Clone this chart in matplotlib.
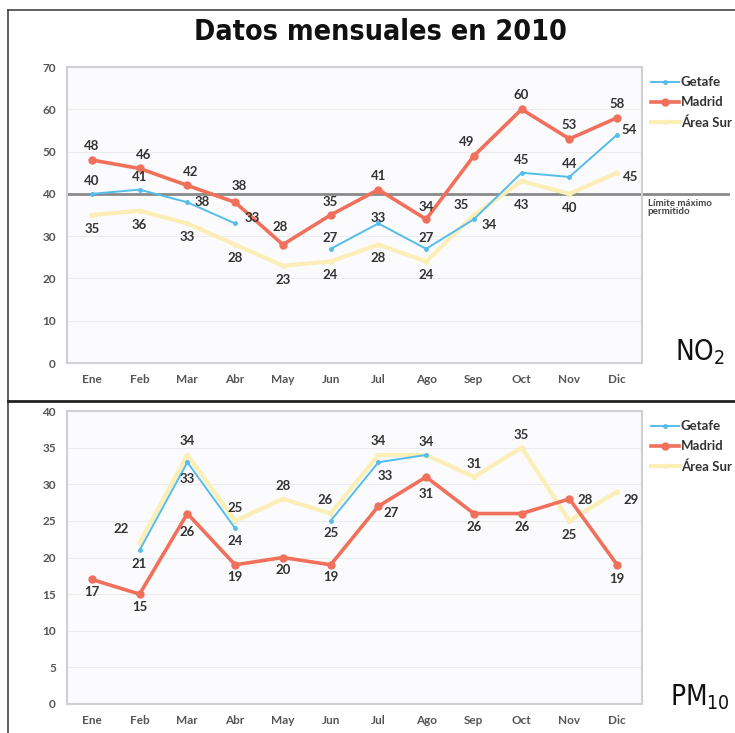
import matplotlib
matplotlib.use("Agg")
import matplotlib.pyplot as plt
from matplotlib.lines import Line2D
from matplotlib import font_manager as fm
import numpy as np

# ---- data -------------------------------------------------------------
months = ["Ene", "Feb", "Mar", "Abr", "May", "Jun",
          "Jul", "Ago", "Sep", "Oct", "Nov", "Dic"]
series = ["Getafe", "Madrid", "Área Sur"]

no2_getafe = [40, 41, 38, 33, None, 27, 33, 27, 34, 45, 44, 54]
no2_madrid = [48, 46, 42, 38, 28, 35, 41, 34, 49, 60, 53, 58]
no2_sur = [35, 36, 33, 28, 23, 24, 28, 24, 35, 43, 40, 45]
no2_limit = 40

pm10_getafe = [None, 21, 33, 24, None, 25, 33, 34, None, None, None, None]
pm10_madrid = [17, 15, 26, 19, 20, 19, 27, 31, 26, 26, 28, 19]
pm10_sur = [None, 22, 34, 25, 28, 26, 34, 34, 31, 35, 25, 29]

# label offsets in points (dx, dy); None = no label
off_no2_getafe = [(0, 9), (0, 9), (11, 0), (12, 4), None, (0, 8), (0, 4),
                  (0, 8), (11, -4), (0, 9), (0, 9), (9, 3)]
off_no2_madrid = [(0, 10), (3, 10), (2, 10), (3, 12), (-2, 13), (0, 9), (0, 10),
                  (0, 9), (-5, 10), (0, 10), (0, 10), (0, 10)]
off_no2_sur = [(0, -10), (0, -10), (0, -10), (0, -10), (0, -10), (0, -10), (0, -10),
               (0, -10), (-9, 7), (0, -17), (0, -10), (10, -3)]

off_pm_getafe = [None, (0, -10), (0, -12), (0, -9), None, (0, -9), (5, -10),
                 None, None, None, None, None]
off_pm_madrid = [(0, -9), (0, -9), (0, -13), (0, -9), (0, -9), (0, -9), (9, -5),
                 (0, -12), (0, -10), (0, -10), (11, -1), (0, -10)]
off_pm_sur = [None, (-13, 10), (0, 10), (0, 9), (0, 9), (-4, 10), (0, 10),
              (0, 9), (0, 9), (0, 9), (0, -10), (10, -6)]

# ---- style ------------------------------------------------------------
C_GET = "#55bde9"
C_MAD = "#f0705c"
C_SUR = "#fbeeb6"
TXT = "#333333"
TICK = "#555555"
FONT = "Lato"

plt.rcParams["font.family"] = [FONT, "DejaVu Sans"]
plt.rcParams["mathtext.fontset"] = "custom"
plt.rcParams["mathtext.rm"] = "DejaVu Sans:stretch=condensed"

W, H = 735, 733
fig = plt.figure(figsize=(W / 100, H / 100), dpi=100)
fig.patch.set_facecolor("white")

title_fp = fm.FontProperties(family="DejaVu Sans", stretch="condensed", weight="bold", size=20.5)
big_fp = fm.FontProperties(family="DejaVu Sans", stretch="condensed", size=20)


def px_axes(x0, y0, x1, y1):
    return fig.add_axes([x0 / W, 1 - y1 / H, (x1 - x0) / W, (y1 - y0) / H])


def to_arr(vals):
    return np.array([np.nan if v is None else v for v in vals], dtype=float)


def draw_panel(ax, getafe, madrid, sur, offs, ymax, ystep):
    x = np.arange(len(months))
    ax.set_facecolor("#fbfbfd")
    ax.plot(x, to_arr(sur), color=C_SUR, lw=3, marker="o", ms=3, zorder=3)
    ax.plot(x, to_arr(getafe), color=C_GET, lw=1.4, marker="o", ms=2.5, zorder=5)
    ax.plot(x, to_arr(madrid), color=C_MAD, lw=2.6, marker="o", ms=5, zorder=4)
    for vals, off in zip((getafe, madrid, sur), offs):
        for xi, (v, o) in enumerate(zip(vals, off)):
            if v is None or o is None:
                continue
            ax.annotate(str(v), (xi, v), xytext=o, textcoords="offset points",
                        ha="center", va="center", fontsize=9.5,
                        fontweight="bold", color=TXT, zorder=6)
    ax.set_xlim(-0.52, 11.52)
    ax.set_ylim(0, ymax)
    ax.set_yticks(np.arange(0, ymax + 1, ystep))
    ax.set_xticks(x)
    ax.set_xticklabels(months)
    ax.tick_params(length=0, labelsize=8.5, labelcolor=TICK, pad=8)
    for lab in ax.get_xticklabels() + ax.get_yticklabels():
        lab.set_fontweight("bold")
    ax.grid(axis="y", color="#ececf0", lw=0.8)
    ax.set_axisbelow(True)
    for sp in ax.spines.values():
        sp.set_color("#cfd0d4")
        sp.set_linewidth(1.5)

    handles = [Line2D([], [], color=C_GET, lw=1.4, marker="o", ms=2.5),
               Line2D([], [], color=C_MAD, lw=2.6, marker="o", ms=5),
               Line2D([], [], color=C_SUR, lw=3, marker="o", ms=3)]
    leg = ax.legend(handles, series, loc="upper left", bbox_to_anchor=(1.0, 1.0),
                    frameon=False, handlelength=2.1, handletextpad=0.15,
                    labelspacing=0.6, borderaxespad=0.4, borderpad=0.3,
                    prop={"family": FONT, "weight": "bold", "size": 9.5})
    for t in leg.get_texts():
        t.set_color(TXT)


# ---- NO2 panel ----------------------------------------------------------
ax1 = px_axes(67, 67, 642, 363)
draw_panel(ax1, no2_getafe, no2_madrid, no2_sur,
           (off_no2_getafe, off_no2_madrid, off_no2_sur), 70, 10)
ax1.axhline(no2_limit, xmin=0, xmax=(728 - 67) / (642 - 67), color="#8a8a8a",
            lw=2, zorder=2, clip_on=False)
ax1.text(1.01, no2_limit - 1.1, "Límite máximo\npermitido", transform=ax1.get_yaxis_transform(),
         ha="left", va="top", fontsize=7, fontweight="bold", color="#444444",
         linespacing=0.9)
fig.text(725 / W, 1 - 367 / H, r"NO$_{2}$", ha="right", va="bottom",
         fontproperties=big_fp, color="#111111")

# ---- PM10 panel ---------------------------------------------------------
ax2 = px_axes(67, 411, 642, 704)
draw_panel(ax2, pm10_getafe, pm10_madrid, pm10_sur,
           (off_pm_getafe, off_pm_madrid, off_pm_sur), 40, 5)
fig.text(730 / W, 1 - 712 / H, r"PM$_{10}$", ha="right", va="bottom",
         fontproperties=big_fp, color="#111111")

# ---- title and frame ----------------------------------------------------
fig.text(380 / W, 1 - 32 / H, "Datos mensuales en 2010", ha="center", va="center",
         fontproperties=title_fp, color="#111111")
fig.add_artist(Line2D([8 / W, 8 / W], [0, 1 - 10 / H], color="#444444", lw=1.2))
fig.add_artist(Line2D([8 / W, 1], [1 - 10 / H, 1 - 10 / H], color="#444444", lw=1.2))
fig.add_artist(Line2D([8 / W, 1], [1 - 401 / H, 1 - 401 / H], color="#222222", lw=2))

fig.savefig("out.png", dpi=100)
